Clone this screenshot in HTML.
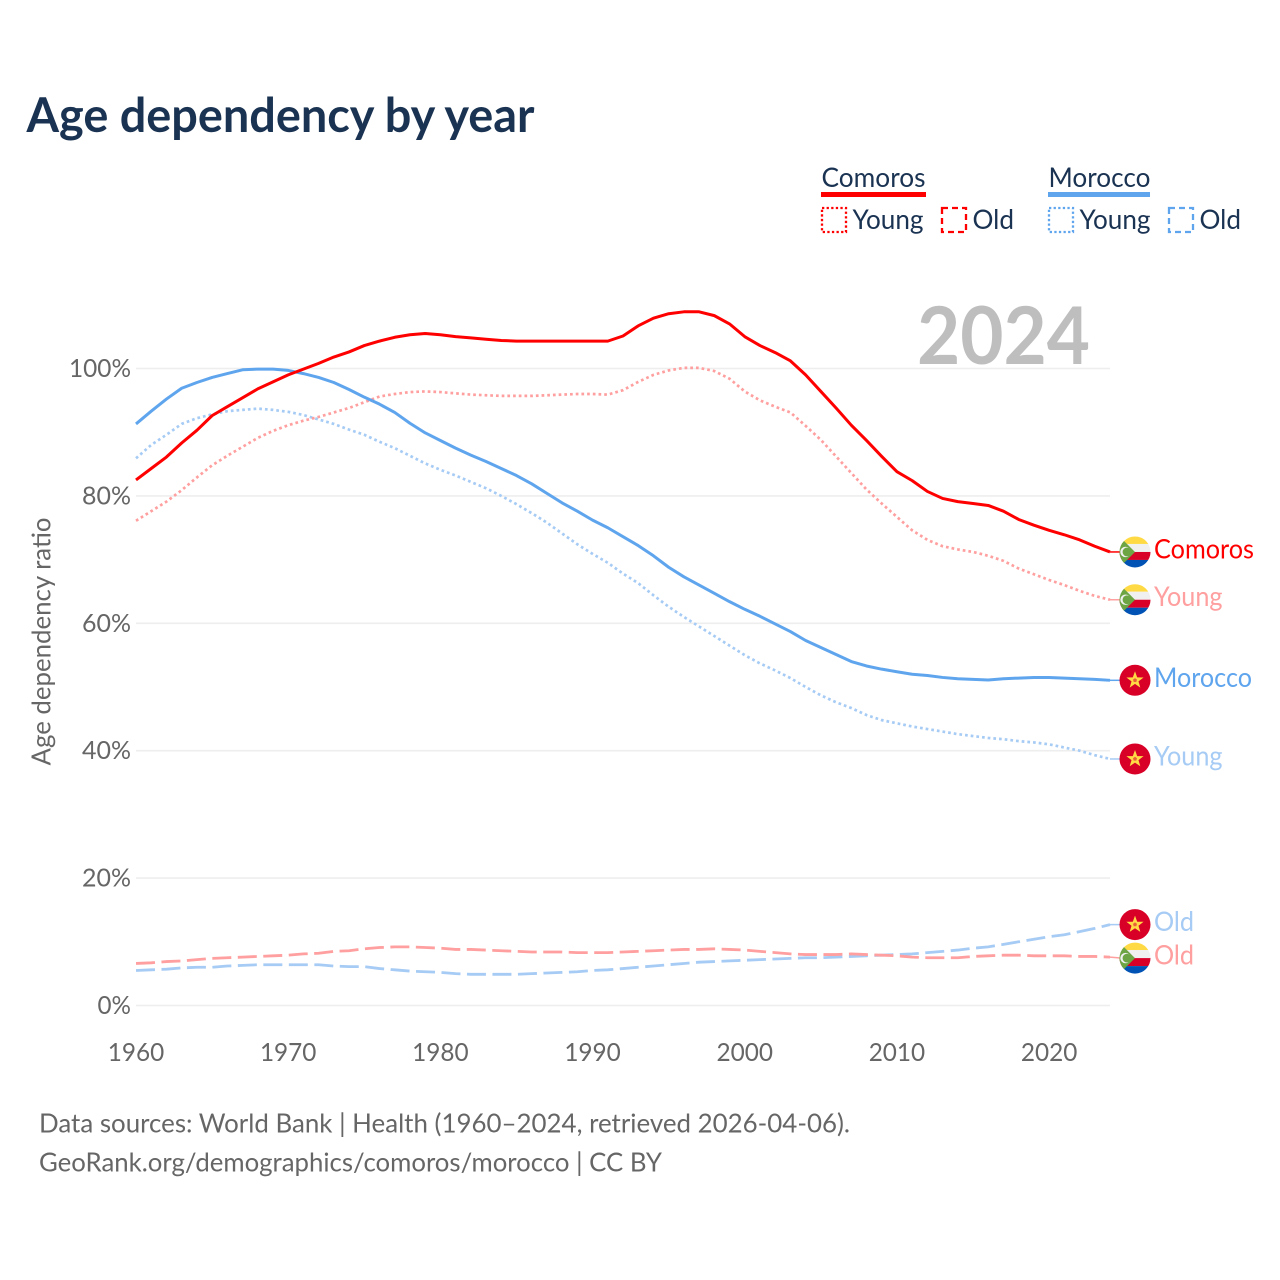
<!DOCTYPE html>
<html lang="en">
<head>
<meta charset="utf-8">
<title>Age dependency by year</title>
<style>
html,body{margin:0;padding:0;background:#fff}
svg{display:block}
text{font-family:"Lato","Carlito","Liberation Sans",sans-serif}
</style>
</head>
<body>
<svg id="chart" xmlns="http://www.w3.org/2000/svg" width="1280" height="1280" viewBox="0 0 1280 1280">
<defs>
<clipPath id="flag-clip"><circle cx="0" cy="0" r="15.5"></circle></clipPath>
<g id="flag-comoros" clip-path="url(#flag-clip)">
<rect x="-16" y="-16" width="32" height="8" fill="#ffda44"></rect>
<rect x="-16" y="-8" width="32" height="8" fill="#f0f0f0"></rect>
<rect x="-16" y="0" width="32" height="8" fill="#d80027"></rect>
<rect x="-16" y="8" width="32" height="8" fill="#0052b4"></rect>
<polygon points="-16,-16 0,0 -16,16" fill="#6da544"></polygon>
<circle cx="-9.5" cy="0" r="5.2" fill="#f0f0f0"></circle>
<circle cx="-8" cy="0" r="4.4" fill="#6da544"></circle>
</g>
<g id="flag-morocco" clip-path="url(#flag-clip)">
<rect x="-16" y="-16" width="32" height="32" fill="#d80027"></rect>
<polygon points="0,-9 2.2,-2.9 8.6,-2.8 3.5,1.1 5.3,7.3 0,3.6 -5.3,7.3 -3.5,1.1 -8.6,-2.8 -2.2,-2.9" fill="#ffda44"></polygon>
<polygon points="0,-2.2 2,-0.7 1.3,1.7 -1.3,1.7 -2,-0.7" fill="#e8603a"></polygon>
</g>
</defs>

<rect x="0" y="0" width="1280" height="1280" fill="#ffffff"></rect>

<text x="26.5" y="132" font-size="48" font-weight="700" fill="#1a3352" textLength="508" lengthAdjust="spacingAndGlyphs">Age dependency by year</text>

<g>
<text x="821.5" y="187" font-size="27" fill="#1a3352" textLength="104" lengthAdjust="spacingAndGlyphs">Comoros</text>
<rect x="821" y="192" width="105" height="5" fill="#ff0000"></rect>
<rect x="822" y="208" width="24" height="24" fill="none" stroke="#ff0000" stroke-width="2.3" stroke-dasharray="2.3 2.3"></rect>
<text x="852.5" y="229" font-size="27" fill="#1a3352" textLength="71" lengthAdjust="spacingAndGlyphs">Young</text>
<rect x="942" y="208" width="24" height="24" fill="none" stroke="#ff0000" stroke-width="2.3" stroke-dasharray="6 4"></rect>
<text x="972.5" y="229" font-size="27" fill="#1a3352" textLength="41.5" lengthAdjust="spacingAndGlyphs">Old</text>
<text x="1048.5" y="187" font-size="27" fill="#1a3352" textLength="102" lengthAdjust="spacingAndGlyphs">Morocco</text>
<rect x="1048" y="192" width="102" height="5" fill="#5fa5ee"></rect>
<rect x="1049" y="208" width="24" height="24" fill="none" stroke="#5fa5ee" stroke-width="2.3" stroke-dasharray="2.3 2.3"></rect>
<text x="1079.5" y="229" font-size="27" fill="#1a3352" textLength="71" lengthAdjust="spacingAndGlyphs">Young</text>
<rect x="1169" y="208" width="24" height="24" fill="none" stroke="#5fa5ee" stroke-width="2.3" stroke-dasharray="6 4"></rect>
<text x="1199.5" y="229" font-size="27" fill="#1a3352" textLength="41.5" lengthAdjust="spacingAndGlyphs">Old</text>
</g>

<g id="grid"></g>
<g id="yticks"></g>
<g id="xticks"></g>

<text x="917" y="364" font-size="80" font-weight="700" fill="#bebebe" textLength="173" lengthAdjust="spacingAndGlyphs">2024</text>

<text transform="translate(50.5,765.5) rotate(-90)" x="0" y="0" font-size="26" fill="#666666" textLength="248" lengthAdjust="spacingAndGlyphs">Age dependency ratio</text>

<g id="series"></g>
<g id="end-labels"></g>

<text x="39" y="1132.5" font-size="26" fill="#666666" textLength="811" lengthAdjust="spacingAndGlyphs">Data sources: World Bank | Health (1960–2024, retrieved 2026-04-06).</text>
<text x="39" y="1171.5" font-size="26" fill="#666666" textLength="623" lengthAdjust="spacingAndGlyphs">GeoRank.org/demographics/comoros/morocco | CC BY</text>
</svg>

<script>
const firstYear = 1960;
const lastYear = 2024;
const xTickYears = [1960, 1970, 1980, 1990, 2000, 2010, 2020];
const yTickValues = [0, 20, 40, 60, 80, 100];

const comorosTotal = [82.5,84.3,86.1,88.3,90.3,92.6,94.0,95.4,96.8,97.9,99.0,99.9,100.8,101.8,102.6,103.6,104.3,104.9,105.3,105.5,105.3,105.0,104.8,104.6,104.4,104.3,104.3,104.3,104.3,104.3,104.3,104.3,105.1,106.7,107.9,108.6,108.9,108.9,108.3,107.0,105.0,103.6,102.5,101.2,99.0,96.4,93.8,91.1,88.7,86.2,83.8,82.4,80.7,79.6,79.1,78.8,78.5,77.6,76.3,75.4,74.6,73.9,73.1,72.1,71.2];
const comorosYoung = [76.1,77.6,79.1,80.9,82.9,84.8,86.3,87.7,89.1,90.2,91.1,91.8,92.4,93.1,93.8,94.7,95.6,96.0,96.3,96.4,96.3,96.1,95.9,95.8,95.7,95.7,95.7,95.8,95.9,96.0,96.0,95.9,96.6,97.9,99.0,99.7,100.1,100.1,99.6,98.4,96.4,95.0,94.0,93.1,91.0,88.8,86.2,83.6,81.0,78.8,76.7,74.6,73.1,72.1,71.6,71.2,70.6,69.8,68.6,67.7,66.8,66.0,65.1,64.3,63.7];
const comorosOld = [6.6,6.7,6.9,7.0,7.2,7.4,7.5,7.6,7.7,7.8,7.9,8.1,8.2,8.5,8.6,8.9,9.1,9.2,9.2,9.1,9.0,8.8,8.8,8.7,8.6,8.5,8.4,8.4,8.4,8.3,8.3,8.3,8.4,8.5,8.6,8.7,8.8,8.8,8.9,8.8,8.7,8.5,8.3,8.1,8.0,8.0,8.0,8.1,8.0,7.9,7.8,7.6,7.5,7.5,7.5,7.7,7.8,7.9,7.9,7.8,7.8,7.8,7.7,7.7,7.6];
const moroccoTotal = [91.3,93.3,95.2,96.9,97.8,98.6,99.2,99.8,99.9,99.9,99.7,99.2,98.6,97.8,96.7,95.5,94.4,93.1,91.4,89.9,88.7,87.5,86.4,85.4,84.3,83.2,81.9,80.4,78.9,77.6,76.2,75.0,73.6,72.2,70.6,68.8,67.3,66.0,64.7,63.4,62.2,61.1,59.9,58.7,57.3,56.2,55.1,54.0,53.3,52.8,52.4,52.0,51.8,51.5,51.3,51.2,51.1,51.3,51.4,51.5,51.5,51.4,51.3,51.2,51.05];
const moroccoYoung = [85.9,88.0,89.6,91.3,92.2,92.8,93.3,93.5,93.7,93.5,93.2,92.7,92.0,91.3,90.4,89.6,88.5,87.5,86.3,85.1,84.1,83.2,82.2,81.2,80.0,78.7,77.3,75.8,74.1,72.4,70.9,69.5,67.8,66.3,64.4,62.6,61.0,59.5,58.0,56.5,55.0,53.7,52.6,51.4,50.0,48.7,47.6,46.7,45.6,44.8,44.3,43.8,43.4,43.0,42.6,42.3,42.0,41.8,41.5,41.3,41.0,40.5,40.0,39.3,38.7];
const moroccoOld = [5.5,5.6,5.7,5.9,6.0,6.0,6.2,6.3,6.4,6.4,6.4,6.4,6.4,6.2,6.1,6.1,5.8,5.6,5.4,5.3,5.2,5.0,4.9,4.9,4.9,4.9,5.0,5.1,5.2,5.3,5.5,5.6,5.8,6.0,6.2,6.4,6.6,6.8,6.9,7.0,7.1,7.2,7.3,7.4,7.5,7.5,7.6,7.7,7.8,7.9,8.0,8.1,8.3,8.5,8.7,9.0,9.2,9.6,10.0,10.4,10.8,11.1,11.6,12.1,12.7];

const svgNS = 'http://www.w3.org/2000/svg';
function xScale(year) { return 136 + (year - firstYear) * (1110 - 136) / (lastYear - firstYear); }
function yScale(value) { return 1005.5 - value * 6.37; }
function make(tag, parent) {
  const el = document.createElementNS(svgNS, tag);
  parent.appendChild(el);
  return el;
}

const gridGroup = document.getElementById('grid');
const yTickGroup = document.getElementById('yticks');
const xTickGroup = document.getElementById('xticks');
const seriesGroup = document.getElementById('series');
const labelGroup = document.getElementById('end-labels');

yTickValues.forEach(function (v) {
  const line = make('line', gridGroup);
  
  
  line.setAttribute('x1', 136);
  line.setAttribute('x2', 1110);
  line.setAttribute('y1', yScale(v));
  line.setAttribute('y2', yScale(v));
  line.setAttribute('stroke', '#eeeeee');
  line.setAttribute('stroke-width', 1.6);

  const label = make('text', yTickGroup);
  
  
  label.setAttribute('x', 131);
  label.setAttribute('y', yScale(v) + 8.5);
  label.setAttribute('text-anchor', 'end');
  label.setAttribute('font-size', 25.5);
  label.setAttribute('fill', '#666666');
  label.setAttribute('textLength', v >= 100 ? 62 : (v > 0 ? 49 : 33.5));
  label.setAttribute('lengthAdjust', 'spacingAndGlyphs');
  label.textContent = v + '%';
});

xTickYears.forEach(function (year) {
  const label = make('text', xTickGroup);
  
  
  label.setAttribute('x', xScale(year));
  label.setAttribute('y', 1061);
  label.setAttribute('text-anchor', 'middle');
  label.setAttribute('font-size', 25.5);
  label.setAttribute('fill', '#666666');
  label.setAttribute('textLength', 56.5);
  label.setAttribute('lengthAdjust', 'spacingAndGlyphs');
  label.textContent = year;
});

function drawLine(values, color, dash, width) {
  const path = make('polyline', seriesGroup);
  path.setAttribute('points', values.map(function (v, i) {
    return xScale(firstYear + i).toFixed(2) + ',' + yScale(v).toFixed(2);
  }).join(' '));
  path.setAttribute('fill', 'none');
  path.setAttribute('stroke', color);
  path.setAttribute('stroke-width', width);
  path.setAttribute('stroke-linejoin', 'round');
  if (dash) path.setAttribute('stroke-dasharray', dash);
  return path;
}

const oldDash = '19 6.5';
const youngDash = '2.7 3';

const lineMoroccoOld = drawLine(moroccoOld, '#a6cbf4', oldDash, 2.8);


const lineComorosOld = drawLine(comorosOld, '#ff9f9f', oldDash, 2.8);


const lineMoroccoYoung = drawLine(moroccoYoung, '#a6cbf4', youngDash, 2.7);


const lineComorosYoung = drawLine(comorosYoung, '#ff9f9f', youngDash, 2.7);


const lineMoroccoTotal = drawLine(moroccoTotal, '#5fa5ee', null, 3);


const lineComorosTotal = drawLine(comorosTotal, '#ff0000', null, 3);



function endLabel(values, flagId, text, color, nudge, width) {
  const endY = yScale(values[values.length - 1]);
  const cy = endY + nudge;
  const link = make('line', labelGroup);
  link.setAttribute('x1', 1110);
  link.setAttribute('x2', 1122);
  link.setAttribute('y1', endY);
  link.setAttribute('y2', cy);
  link.setAttribute('stroke', color);
  link.setAttribute('stroke-width', 1.5);
  const flag = make('use', labelGroup);
  flag.setAttribute('href', '#' + flagId);
  flag.setAttribute('transform', 'translate(1135,' + cy.toFixed(2) + ')');
  const label = make('text', labelGroup);
  label.setAttribute('x', 1154);
  label.setAttribute('y', (cy + 6.5).toFixed(2));
  label.setAttribute('font-size', 27);
  label.setAttribute('fill', color);
  label.setAttribute('textLength', width);
  label.setAttribute('lengthAdjust', 'spacingAndGlyphs');
  label.textContent = text;
  return { link: link, flag: flag, label: label };
}

const endComoros = endLabel(comorosTotal, 'flag-comoros', 'Comoros', '#ff0000', 0, 100);







const endComorosYoung = endLabel(comorosYoung, 'flag-comoros', 'Young', '#ff9f9f', 0, 68.5);







const endMorocco = endLabel(moroccoTotal, 'flag-morocco', 'Morocco', '#5fa5ee', 0, 98);







const endMoroccoYoung = endLabel(moroccoYoung, 'flag-morocco', 'Young', '#a6cbf4', 0, 68.5);







const endMoroccoOld = endLabel(moroccoOld, 'flag-morocco', 'Old', '#a6cbf4', 0, 40);







const endComorosOld = endLabel(comorosOld, 'flag-comoros', 'Old', '#ff9f9f', 1, 40);






</script>
</body>
</html>
